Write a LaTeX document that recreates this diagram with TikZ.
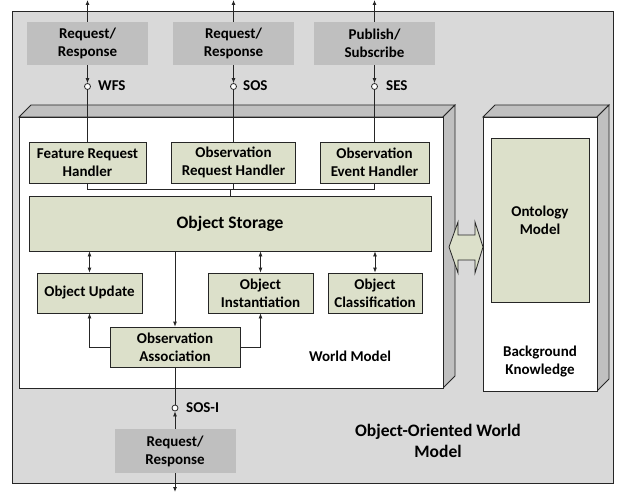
\documentclass[tikz,border=0pt]{standalone}
\usepackage{fontspec}
\setmainfont{Carlito}
\usetikzlibrary{arrows.meta}
\definecolor{bggray}{HTML}{D9D9D9}
\definecolor{boxgray}{HTML}{BFBFBF}
\definecolor{sidegray}{HTML}{C0C0C0}
\definecolor{green}{HTML}{DCE0CA}
\definecolor{linec}{HTML}{262626}
\begin{document}
\begin{tikzpicture}[x=1pt,y=-1pt,
  font=\fontsize{15}{18}\selectfont\bfseries,
  line/.style={draw=linec,line width=0.8pt},
  arr/.style={line,-{Latex[length=5pt,width=4pt]}},
  darr/.style={line,{Latex[length=5pt,width=4pt]}-{Latex[length=5pt,width=4pt]}},
  gbox/.style={draw=linec,line width=0.8pt,fill=green,align=center,inner sep=0pt},
  pbox/.style={fill=boxgray,align=center,inner sep=0pt},
  lolli/.style={circle,draw=linec,line width=0.8pt,fill=white,minimum size=6pt,inner sep=0pt},
  lab/.style={anchor=west,inner sep=0pt},
  txt/.style={align=center,inner sep=0pt}]
\useasboundingbox (0,0) rectangle (618,492);
% outer
\path[fill=bggray,draw=linec,line width=0.8pt] (12,11) rectangle (613,483);
% world model 3D box
\path[fill=sidegray,draw=linec,line width=0.8pt] (19,117) -- (31,105) -- (455,105) -- (443,117) -- cycle;
\path[fill=sidegray,draw=linec,line width=0.8pt] (443,117) -- (455,105) -- (455,376) -- (443,388) -- cycle;
\path[fill=white,draw=linec,line width=0.8pt] (19,117) rectangle (443,388);
% background knowledge 3D box
\path[fill=sidegray,draw=linec,line width=0.8pt] (483,117) -- (495,105) -- (609,105) -- (597,117) -- cycle;
\path[fill=sidegray,draw=linec,line width=0.8pt] (597,117) -- (609,105) -- (609,379) -- (597,391) -- cycle;
\path[fill=white,draw=linec,line width=0.8pt] (483,117) rectangle (597,391);
% top protocol boxes
\node[pbox,minimum width=121pt,minimum height=43pt] (p1) at (87.5,43.5) {Request/\\Response};
\node[pbox,minimum width=121pt,minimum height=43pt] (p2) at (233.5,43.5) {Request/\\Response};
\node[pbox,minimum width=121pt,minimum height=43pt] (p3) at (374.5,43.5) {Publish/\\Subscribe};
\coordinate (t1) at (87.5,0);
\coordinate (t2) at (233.5,0);
\coordinate (t3) at (374.5,0);
\draw[arr] (p1.north) -- (t1);
\draw[arr] (p2.north) -- (t2);
\draw[arr] (p3.north) -- (t3);
\node[lolli] (c1) at (87.5,86.5) {};
\node[lolli] (c2) at (233.5,86.5) {};
\node[lolli] (c3) at (374.5,86.5) {};
\node[lab] (l1) at (98,86) {WFS};
\node[lab] (l2) at (243,86) {SOS};
\node[lab] (l3) at (386,86) {SES};
\draw[arr] (p1.south) -- (c1.north);
\draw[arr] (p2.south) -- (c2.north);
\draw[arr] (p3.south) -- (c3.north);
% handlers
\node[gbox,minimum width=117pt,minimum height=41pt] (h1) at (87.5,162.5) {Feature Request\\Handler};
\node[gbox,minimum width=124pt,minimum height=41pt] (h2) at (233.5,162.5) {Observation\\Request Handler};
\node[gbox,minimum width=109pt,minimum height=41pt] (h3) at (374.5,162.5) {Observation\\Event Handler};
\draw[line] (c1.south) -- (h1.north);
\draw[line] (c2.south) -- (h2.north);
\draw[line] (c3.south) -- (h3.north);
% storage
\node[gbox,minimum width=402pt,minimum height=55pt,font=\fontsize{17.5}{21}\selectfont\bfseries] (st) at (230,223.5) {Object Storage};
\coordinate (j1) at (87.5,189);
\coordinate (j3) at (374.5,189);
\coordinate (jm) at (230,189);
\draw[line] (h1.south) -- (j1) -- (j3) -- (h3.south);
\draw[line] (h2.south) -- (233.5,189);
\draw[line] (jm) -- (st.north);
% lower row
\node[gbox,minimum width=105pt,minimum height=40pt] (ou) at (89.5,293) {Object Update};
\node[gbox,minimum width=105pt,minimum height=40pt] (oi) at (260.5,293) {Object\\Instantiation};
\node[gbox,minimum width=94pt,minimum height=40pt] (oc) at (375,293) {Object\\Classification};
\draw[darr] (st.south -| ou.north) -- (ou.north);
\draw[darr] (st.south -| oi.north) -- (oi.north);
\draw[darr] (st.south -| oc.north) -- (oc.north);
\node[gbox,minimum width=130pt,minimum height=40pt] (oa) at (175,347) {Observation\\Association};
\draw[arr] (st.south -| oa.north) -- (oa.north);
\draw[arr] (oa.west) -| (ou.south);
\draw[arr] (oa.east) -| (oi.south);
\node[txt] (wm) at (350,356) {World Model};
% ontology
\node[gbox,minimum width=98pt,minimum height=164pt] (om) at (540,220) {Ontology\\Model};
\node[txt] (bk) at (540,362) {Background\\Knowledge};
% fat double arrow
\path[fill=green,draw=linec,line width=0.8pt] (449,247) -- (458,222) -- (458,235) -- (475,235) -- (475,222) -- (483,247) -- (475,273) -- (475,260) -- (458,260) -- (458,273) -- cycle;
% bottom
\node[lolli] (c4) at (175,408) {};
\node[lab] (l4) at (186,408) {SOS-I};
\draw[line] (oa.south) -- (c4.north);
\node[pbox,minimum width=121pt,minimum height=44pt] (p4) at (175,451) {Request/\\Response};
\draw[arr] (p4.north) -- (c4.south);
\coordinate (t4) at (175,492);
\draw[arr] (p4.south) -- (t4);
\node[txt,font=\fontsize{17.5}{21}\selectfont\bfseries] (oo) at (438,441) {Object-Oriented World\\Model};
\end{tikzpicture}
\end{document}
